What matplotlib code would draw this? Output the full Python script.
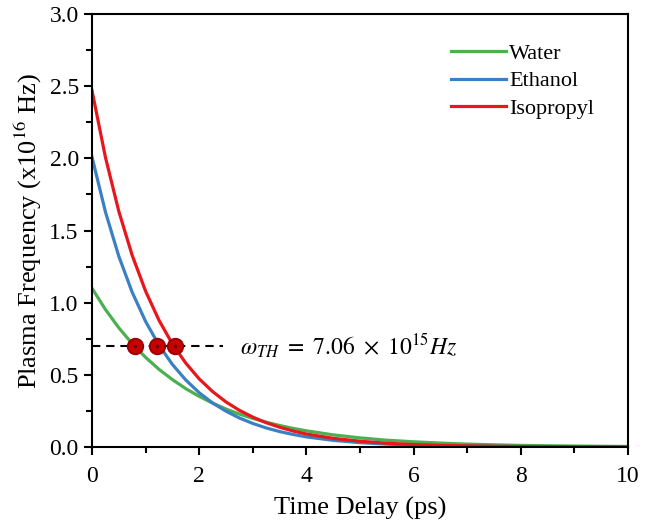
import matplotlib
matplotlib.use("Agg")
import matplotlib.pyplot as plt
from matplotlib.ticker import MultipleLocator, FormatStrFormatter

plt.rcParams['font.family'] = ['Liberation Serif', 'DejaVu Serif']
plt.rcParams['mathtext.fontset'] = 'stix'

time_ps = [0, 0.25, 0.5, 0.75, 1.0, 1.25, 1.5, 1.75, 2.0, 2.25, 2.5, 2.75, 3.0, 3.25,
           3.5, 3.75, 4.0, 4.5, 5.0, 5.5, 6.0, 6.5, 7.0, 7.5, 8.0, 8.5, 9.0, 9.5, 10.0]
water = [1.100, 0.953, 0.826, 0.716, 0.621, 0.538, 0.467, 0.404, 0.351, 0.304, 0.263,
         0.228, 0.198, 0.172, 0.149, 0.129, 0.112, 0.084, 0.063, 0.047, 0.036, 0.027,
         0.020, 0.015, 0.011, 0.0086, 0.0065, 0.0049, 0.0036]
ethanol = [2.010, 1.630, 1.322, 1.072, 0.870, 0.705, 0.572, 0.464, 0.376, 0.305, 0.248,
           0.201, 0.163, 0.132, 0.107, 0.087, 0.070, 0.046, 0.030, 0.020, 0.013, 0.0087,
           0.0057, 0.0038, 0.0025, 0.0016, 0.0011, 0.0007, 0.0005]
isopropyl = [2.470, 2.009, 1.633, 1.328, 1.080, 0.878, 0.714, 0.581, 0.472, 0.384, 0.312,
             0.254, 0.207, 0.168, 0.137, 0.111, 0.090, 0.060, 0.040, 0.026, 0.017, 0.0115,
             0.0076, 0.0050, 0.0033, 0.0022, 0.0015, 0.0010, 0.0006]

threshold = 0.70
threshold_t = [0.80, 1.22, 1.54]
threshold_line_x = [0, 2.45]

fig = plt.figure(figsize=(6.69, 5.25), dpi=100)
ax = fig.add_axes([0.1375, 0.1486, 0.8012, 0.8247])

ax.plot(time_ps, water, color='#4caf50', lw=2.3, label='Water')
ax.plot(time_ps, ethanol, color='#3a80c3', lw=2.3, label='Ethanol')
ax.plot(time_ps, isopropyl, color='#e8171d', lw=2.3, label='Isopropyl')

ax.plot(threshold_line_x, [threshold, threshold], color='black', lw=1.5,
        linestyle=(0, (4, 2.8)))
ax.plot(threshold_t, [threshold] * len(threshold_t), linestyle='none', marker='o',
        markersize=11, markerfacecolor='#c80000', markeredgecolor='#a00000',
        markeredgewidth=1.5)
ax.plot(threshold_t, [threshold] * len(threshold_t), linestyle='none', marker='.',
        markersize=3, color='#700000')

ax.text(2.76, threshold, r'$\omega_{TH}\ =\ 7.06\ \times\ 10^{15}Hz$', fontsize=17,
        va='center', ha='left')

ax.set_xlim(0, 10)
ax.set_ylim(0, 3.0)
ax.xaxis.set_major_locator(MultipleLocator(2))
ax.xaxis.set_minor_locator(MultipleLocator(1))
ax.yaxis.set_major_locator(MultipleLocator(0.5))
ax.yaxis.set_minor_locator(MultipleLocator(0.25))
ax.yaxis.set_major_formatter(FormatStrFormatter('%.1f'))
ax.tick_params(which='both', direction='out', top=False, right=False, width=1.5,
               labelsize=17)
ax.tick_params(which='major', length=6)
ax.tick_params(which='minor', length=4)
ax.tick_params(axis='x', which='major', pad=7.5)
for sp in ax.spines.values():
    sp.set_linewidth(1.5)

ax.set_xlabel('Time Delay (ps)', fontsize=19, labelpad=7)
ax.set_ylabel(r'Plasma Frequency (x10$^{16}$ Hz)', fontsize=19, labelpad=4)

ax.legend(loc='upper right', frameon=False, fontsize=16, handlelength=2.45,
          handletextpad=0.15, labelspacing=0.32, borderaxespad=0,
          bbox_to_anchor=(0.953, 0.953))

fig.savefig('out.png', dpi=100)
